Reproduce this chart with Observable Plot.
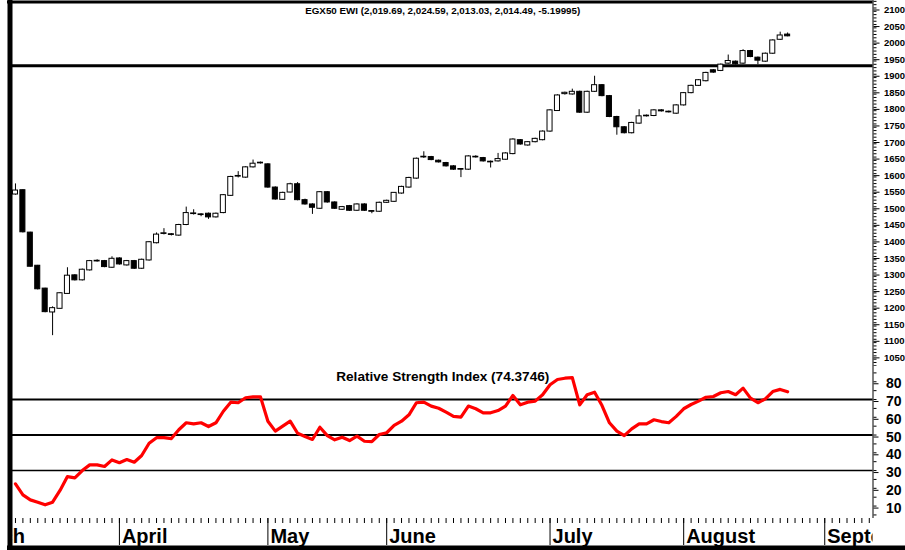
<!DOCTYPE html>
<html>
<head>
<meta charset="utf-8">
<script src="https://cdn.jsdelivr.net/npm/d3@7"></script>
<script src="https://cdn.jsdelivr.net/npm/@observablehq/plot@0.6"></script>
<style>
html, body { margin: 0; padding: 0; background: #fff; }
#chart { width: 905px; height: 550px; overflow: hidden; }
#chart svg { display: block; }
</style>
</head>
<body>
<div id="chart"></div>
<script>
// ---- data (trading-day index 0..104) ----
const opens = [
  1537,1550,1422,1322,1253,1181,1192,1237,1293,1278,
  1308,1335,1336,1316,1344,1323,1336,1313,1338,1390,
  1418,1417,1413,1445,1478,1477,1479,1468,1481,1533,
  1591,1588,1619,1633,1628,1558,1521,1543,1568,1520,
  1507,1494,1544,1513,1491,1502,1488,1507,1487,1485,
  1512,1515,1540,1558,1585,1649,1650,1639,1632,1622,
  1614,1612,1649,1647,1636,1637,1642,1659,1701,1685,
  1695,1701,1727,1789,1840,1839,1847,1784,1847,1867,
  1834,1771,1740,1722,1751,1773,1774,1791,1787,1781,
  1806,1843,1865,1879,1912,1910,1932,1938,1932,1970,
  1950,1938,1962,2004,2019.69
];
const highs = [
  1569,1551,1423,1323,1254,1198,1241,1316,1295,1312,
  1338,1340,1338,1349,1346,1338,1338,1342,1395,1421,
  1434,1419,1447,1499,1491,1479,1481,1481,1537,1592,
  1606,1621,1641,1635,1630,1560,1544,1571,1573,1523,
  1509,1546,1546,1515,1501,1504,1509,1509,1488,1514,
  1520,1543,1562,1589,1647,1666,1652,1641,1634,1624,
  1615,1654,1654,1649,1638,1661,1663,1705,1703,1697,
  1707,1729,1793,1838,1846,1855,1849,1849,1894,1869,
  1836,1773,1742,1755,1793,1777,1793,1793,1789,1808,
  1845,1867,1884,1906,1914,1931,1958,1940,1974,1972,
  1952,1964,2004,2027,2024.59
];
const lows = [
  1535,1421,1318,1249,1180,1111,1191,1236,1276,1276,
  1306,1333,1316,1314,1324,1321,1311,1311,1336,1388,
  1415,1412,1411,1443,1475,1470,1462,1466,1479,1531,
  1587,1586,1617,1629,1556,1520,1520,1542,1518,1505,
  1477,1492,1511,1492,1489,1486,1486,1486,1479,1483,
  1510,1513,1538,1556,1583,1646,1639,1632,1620,1610,
  1588,1610,1647,1635,1617,1635,1641,1657,1686,1683,
  1693,1699,1725,1788,1837,1837,1782,1782,1845,1832,
  1769,1716,1720,1720,1749,1771,1772,1786,1783,1779,
  1804,1841,1863,1877,1903,1908,1930,1928,1930,1950,
  1929,1936,1960,2002,2013.03
];
const closes = [
  1549,1423,1319,1251,1182,1194,1239,1292,1278,1310,
  1336,1337,1318,1343,1326,1336,1313,1340,1393,1416,
  1420,1415,1445,1481,1480,1475,1468,1479,1535,1590,
  1593,1619,1630,1631,1558,1522,1542,1568,1520,1507,
  1497,1544,1513,1494,1499,1488,1507,1488,1485,1512,
  1518,1542,1560,1587,1645,1651,1641,1634,1622,1612,
  1612,1652,1651,1637,1634,1644,1661,1703,1688,1695,
  1705,1727,1791,1836,1844,1847,1784,1847,1867,1834,
  1771,1740,1722,1753,1773,1775,1791,1788,1785,1806,
  1843,1865,1882,1904,1905,1929,1940,1930,1970,1952,
  1941,1962,2002,2017,2014.49
];
const rsiValues = [
  22.5,16.3,13.5,12.2,10.7,12.2,18.8,26.6,25.9,30,
  33.2,33.2,32.3,36,34.4,36.2,34.7,38.5,45.4,48.5,
  48.5,48,53,56.9,56.3,56.9,54.8,56.9,63.4,68.5,
  68.2,71,71.5,71.5,57.8,52.2,55,57.8,51,49.2,
  47.5,54.4,49.7,47.3,48.8,46.9,49.4,46.5,46.3,50.3,
  51.3,55.4,57.8,61.4,68.2,68.5,66.3,65.1,62.9,60.5,
  60.1,66.3,64.8,62.5,62.5,63.8,66.3,72.3,67,68.5,
  69.1,72.7,78.3,81.3,82,82.3,67,72.7,74.1,66.6,
  56.9,52.2,49.7,53.5,56.3,56.3,58.6,57.6,56.9,60.5,
  64.8,67.2,69.1,71.3,71.7,73.8,74.5,72.7,76.4,70.8,
  68.2,70.4,74.5,75.7,74.37
];
const monthNames = ["March", "April", "May", "June", "July", "August", "September"];
const monthStarts = [-7, 14, 34, 50, 72, 90, 109];
const priceLevel = 1926;
const priceMajorTicks = d3.range(1050, 2101, 50);
const priceMinorTicks = d3.range(1020, 2121, 10);
const rsiMajorTicks = [10, 20, 30, 40, 50, 60, 70, 80];
const rsiMinorTicks = d3.range(5, 90, 5);
const dayTicks = d3.range(0, 116);
const titleText = "EGX50 EWI (2,019.69, 2,024.59, 2,013.03, 2,014.49, -5.19995)";
const rsiTitleText = "Relative Strength Index (74.3746)";

// ---- tables ----
const candles = opens.map((o, i) => ({i, open: o, high: highs[i], low: lows[i], close: closes[i]}));
const upCandles = candles.filter(d => d.close >= d.open);
const downCandles = candles.filter(d => d.close < d.open);
const rsiData = rsiValues.map((v, i) => ({i, v}));
const months = monthNames.map((name, k) => ({name, i: monthStarts[k]}));

const font = "'Liberation Sans', Arial, Helvetica, sans-serif";
const xDomain = [-0.4, 115.5];
const priceDomain = [1017.9, 2122.6];
const rsiDomain = [3.0, 88.6];
const common = {
  width: 905, marginLeft: 12, marginRight: 32.5,
  style: {fontFamily: font, background: "white", color: "black"}
};

const halfBody = 0.34;
const priceChart = Plot.plot({
  ...common,
  height: 366, marginTop: 0, marginBottom: 0,
  x: {domain: xDomain, axis: null, label: null},
  y: {domain: priceDomain, axis: null, label: null},
  marks: [
    Plot.ruleY([priceLevel], {stroke: "black", strokeWidth: 3}),
    Plot.ruleX(candles, {x: "i", y1: "low", y2: "high", stroke: "black", strokeWidth: 1}),
    Plot.rect(upCandles, {x1: d => d.i - halfBody, x2: d => d.i + halfBody, y1: "open", y2: "close", fill: "white", stroke: "black", strokeWidth: 1}),
    Plot.rect(downCandles, {x1: d => d.i - halfBody, x2: d => d.i + halfBody, y1: "open", y2: "close", fill: "black", stroke: "black", strokeWidth: 1}),
    Plot.axisY({anchor: "right", ticks: priceMinorTicks, tickSize: 3, tickFormat: () => "", label: null}),
    Plot.axisY({anchor: "right", ticks: priceMajorTicks, tickSize: 6, tickPadding: 5, tickFormat: d3.format("d"),
      fontSize: 9.5, fontWeight: "bold", dy: 2, label: null}),
    Plot.ruleX([xDomain[1]], {stroke: "black", strokeWidth: 1}),
    Plot.ruleX([xDomain[0]], {stroke: "black", strokeWidth: 5, dx: -2.5}),
    Plot.ruleY([priceDomain[1]], {stroke: "black", strokeWidth: 3, dy: 1.5, insetLeft: -5}),
    Plot.text([titleText], {text: d => d, frameAnchor: "top", lineAnchor: "bottom", dy: 13.5,
      fontSize: 9.8, fontWeight: "bold", fill: "black"})
  ]
});

const rsiChart = Plot.plot({
  ...common,
  height: 184, marginTop: 0, marginBottom: 32,
  x: {domain: xDomain, axis: null, label: null},
  y: {domain: rsiDomain, axis: null, label: null},
  marks: [
    Plot.ruleY([70], {stroke: "black", strokeWidth: 2}),
    Plot.ruleY([50], {stroke: "black", strokeWidth: 2}),
    Plot.ruleY([30], {stroke: "black", strokeWidth: 1.4}),
    Plot.line(rsiData, {x: "i", y: "v", stroke: "#ff0000", strokeWidth: 3.2, strokeLinejoin: "round"}),
    Plot.text([rsiTitleText], {text: d => d, frameAnchor: "top", lineAnchor: "bottom", dy: 14,
      fontSize: 13.6, fontWeight: "bold", fill: "black"}),
    Plot.axisY({anchor: "right", ticks: rsiMinorTicks, tickSize: 3, tickFormat: () => "", label: null}),
    Plot.axisY({anchor: "right", ticks: rsiMajorTicks, tickSize: 5, tickPadding: 8, tickFormat: d3.format("d"),
      fontSize: 14, fontWeight: "bold", dy: 2, label: null}),
    Plot.axisX({anchor: "bottom", ticks: dayTicks, tickSize: 5, tickFormat: () => "", label: null}),
    Plot.axisX({anchor: "bottom", ticks: monthStarts.filter(d => d >= 0), tickSize: 27, tickFormat: () => "", label: null}),
    Plot.text(months, {x: "i", text: "name", frameAnchor: "bottom", lineAnchor: "bottom", dy: 24, dx: 2.5,
      textAnchor: "start", fontSize: 20, fontWeight: "bold", fill: "black"}),
    Plot.ruleX([xDomain[1]], {stroke: "black", strokeWidth: 1}),
    Plot.ruleX([xDomain[0]], {stroke: "black", strokeWidth: 5, dx: -2.5, insetBottom: -32}),
    Plot.ruleY([rsiDomain[0]], {stroke: "black", strokeWidth: 5, dy: 29.5, insetLeft: -5, insetRight: -32.5})
  ]
});

// clip the month labels to the plotting band, as in the reference (cut at the frame edges)
const svgNS = "http://www.w3.org/2000/svg";
const [xl, xr] = rsiChart.scale("x").range;
const defs = document.createElementNS(svgNS, "defs");
const clip = document.createElementNS(svgNS, "clipPath");
clip.setAttribute("id", "month-clip");
const clipRect = document.createElementNS(svgNS, "rect");
clipRect.setAttribute("x", xl);
clipRect.setAttribute("y", 0);
clipRect.setAttribute("width", xr - xl);
clipRect.setAttribute("height", 184);
clip.appendChild(clipRect);
defs.appendChild(clip);
rsiChart.appendChild(defs);
const aprilNode = Array.from(rsiChart.querySelectorAll("text")).find(t => t.textContent === monthNames[1]);
if (aprilNode) {
  const g = aprilNode.parentNode;
  const wrapper = document.createElementNS(svgNS, "g");
  wrapper.setAttribute("clip-path", "url(#month-clip)");
  g.parentNode.insertBefore(wrapper, g);
  wrapper.appendChild(g);
}

const root = document.getElementById("chart");
root.append(priceChart, rsiChart);
</script>
</body>
</html>
